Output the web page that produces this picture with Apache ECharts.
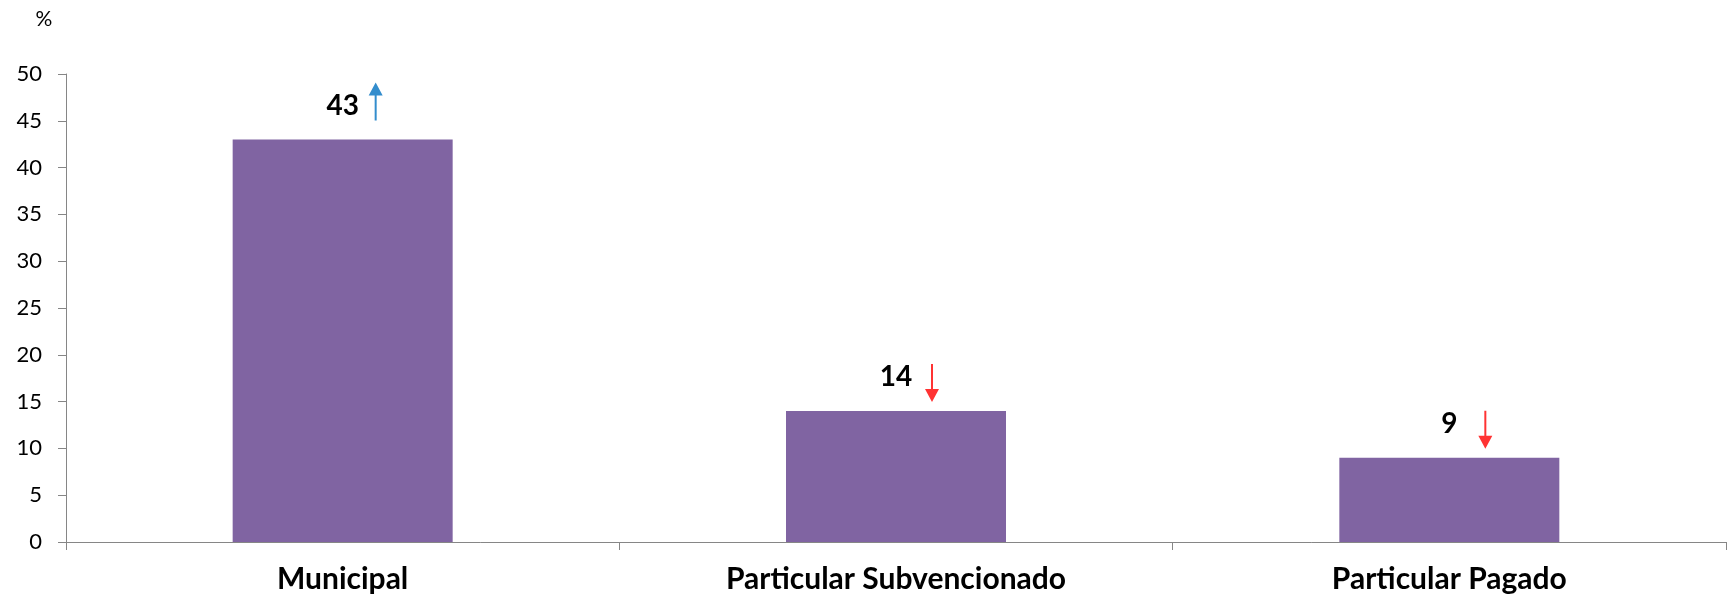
<!DOCTYPE html>
<html>
<head>
<meta charset="utf-8">
<script src="https://cdn.jsdelivr.net/npm/echarts@6/dist/echarts.min.js"></script>
<style>
  html, body { margin: 0; padding: 0; background: #fff; }
  #chart { width: 1733px; height: 600px; }
</style>
</head>
<body>
<div id="chart"></div>
<script>
// data
const categories = ['Municipal', 'Particular Subvencionado', 'Particular Pagado'];
const values = [43, 14, 9];
const trends = ['up', 'down', 'down'];
const yTicks = { min: 0, max: 50, interval: 5 };

const FONT = 'Lato, "Open Sans", sans-serif';
const UP = 'path://M7,0 L14,13 L8,13 L8,38 L6,38 L6,13 L0,13 Z';
const DOWN = 'path://M7,38 L14,25 L8,25 L8,0 L6,0 L6,25 L0,25 Z';

const chart = echarts.init(document.getElementById('chart'));

const arrowData = values.map((v, i) => ({
  value: v,
  symbol: trends[i] === 'up' ? UP : DOWN,
  symbolOffset: trends[i] === 'up' ? [33, -38] : [36, -28],
  itemStyle: { color: trends[i] === 'up' ? '#0070C0' : '#FF0000' },
}));

chart.setOption({
  animation: false,
  grid: { left: 66, right: 7, top: 74, bottom: 58 },
  xAxis: {
    type: 'category',
    data: categories,
    axisLine: { lineStyle: { color: '#868686', width: 1 } },
    axisTick: { show: true, length: 8, lineStyle: { color: '#868686' } },
    axisLabel: {
      margin: 22,
      fontFamily: FONT,
      fontWeight: 'bold',
      fontSize: 30,
      color: '#000',
    },
  },
  yAxis: {
    type: 'value',
    min: yTicks.min,
    max: yTicks.max,
    interval: yTicks.interval,
    name: '%',
    nameLocation: 'end',
    nameGap: 44,
    nameTextStyle: { fontFamily: FONT, fontSize: 21, color: '#000', padding: [0, 44, 0, 0] },
    splitLine: { show: false },
    axisLine: { show: true, lineStyle: { color: '#868686', width: 1 } },
    axisTick: { show: true, length: 8, lineStyle: { color: '#868686' } },
    axisLabel: { margin: 24, fontFamily: FONT, fontSize: 22, color: '#000' },
  },
  series: [
    {
      type: 'bar',
      data: values,
      barWidth: 220,
      itemStyle: { color: '#8064A2' },
      label: {
        show: true,
        position: 'top',
        distance: 20,
        fontFamily: FONT,
        fontWeight: 'bold',
        fontSize: 28,
        color: '#000',
      },
    },
    {
      type: 'scatter',
      data: arrowData,
      symbolSize: [14, 38],
      silent: true,
      z: 3,
    },
  ],
});
</script>
</body>
</html>
